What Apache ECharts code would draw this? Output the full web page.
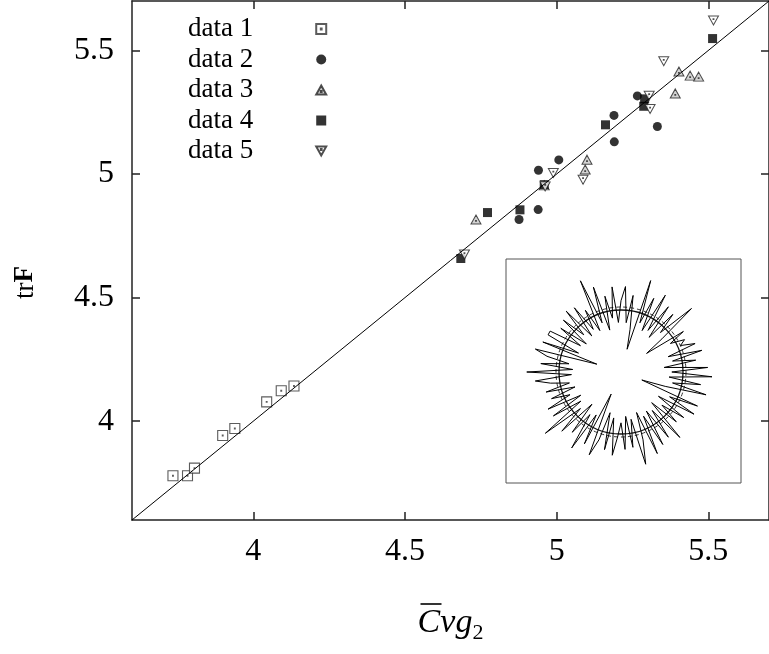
<!DOCTYPE html>
<html>
<head>
<meta charset="utf-8">
<script src="https://cdn.jsdelivr.net/npm/echarts@6/dist/echarts.min.js"></script>
<style>
  html, body { margin: 0; padding: 0; background: #fff; }
  #chart { width: 769px; height: 654px; }
</style>
</head>
<body>
<div id="chart"></div>
<script>
// Axis ranges and tick positions
const axisMin = 3.6;
const axisMax = 5.7;
const tickValues = [4, 4.5, 5, 5.5];

// Measured points, [C̄νg₂, trF]
const data1 = [[3.735, 3.779], [3.783, 3.779], [3.806, 3.810], [3.899, 3.942], [3.939, 3.970], [4.044, 4.078], [4.092, 4.123], [4.134, 4.142]];
const data2 = [[5.266, 5.316], [5.189, 5.237], [5.332, 5.192], [5.190, 5.130], [5.007, 5.057], [4.940, 5.015], [4.939, 4.856], [4.876, 4.816]];
const data3 = [[5.100, 5.058], [5.094, 5.018], [4.734, 4.816], [4.959, 4.954], [5.403, 5.415], [5.440, 5.398], [5.468, 5.394], [5.391, 5.326]];
const data4 = [[5.514, 5.548], [5.290, 5.304], [5.287, 5.274], [5.161, 5.199], [4.959, 4.957], [4.879, 4.855], [4.772, 4.844], [4.684, 4.658]];
const data5 = [[5.517, 5.621], [5.353, 5.456], [5.305, 5.317], [5.308, 5.263], [4.989, 5.004], [5.087, 4.977], [4.696, 4.674], [4.962, 4.950]];

// Reference line trF = C̄νg₂
const identityLine = [[3.6, 3.6], [5.7, 5.7]];

// Inset: radial profile, relative to the mean radius, sampled every 3° clockwise from the top
const insetRadii = [
  1.15, 1.38, 0.80, 1.25, 0.70, 0.38, 1.55, 0.85, 1.30, 0.75,
  1.43, 0.80, 1.30, 0.72, 1.25, 0.90, 1.53, 0.85, 0.51, 1.20,
  0.92, 1.15, 1.05, 1.28, 0.80, 1.35, 0.85, 1.22, 0.70, 1.40,
  0.82, 1.47, 0.78, 1.30, 0.85, 1.42, 0.75, 0.36, 1.35, 0.88,
  1.36, 0.72, 1.25, 0.85, 1.20, 0.70, 1.42, 0.80, 1.30, 0.75,
  1.35, 0.80, 1.44, 0.70, 1.15, 1.54, 0.78, 1.23, 0.72, 1.25,
  0.82, 1.05, 1.35, 0.75, 1.28, 0.68, 1.15, 1.43, 0.39, 1.30,
  0.80, 1.46, 0.85, 1.25, 0.70, 1.35, 0.88, 1.57, 0.80, 1.30,
  0.75, 1.32, 0.90, 1.20, 0.78, 1.25, 0.85, 1.15, 1.39, 0.80,
  1.52, 0.78, 1.30, 0.85, 1.22, 1.43, 0.41, 1.35, 0.75, 1.32,
  1.32, 0.78, 1.20, 0.72, 1.25, 0.85, 1.32, 0.75, 1.28, 0.82,
  1.15, 0.75, 1.61, 0.85, 1.44, 0.70, 1.25, 0.88, 1.38, 0.80
];
const insetStep = 360 / insetRadii.length;
const insetProfile = insetRadii.map((r, i) => [r, i * insetStep]);
insetProfile.push([insetRadii[0], 360]);

// Inset geometry: mean circle radius (px) and the radial extent the profile axis covers
const insetCenter = [621, 372];
const meanRadiusPx = 62;
const profileAxisMax = 1.7;

const serif = 'Liberation Serif';
const frame = { color: '#222', width: 1.5 };

// Marker shapes: open square / triangles with a centre dot
const squareDot = 'path://M0,0H10V10H0Z M4.6,4.6H5.4V5.4H4.6Z';
const triUpDot = 'path://M5,0L10,9H0Z M4.6,5.6H5.4V6.4H4.6Z';
const triDownDot = 'path://M0,0H10L5,9Z M4.6,2.6H5.4V3.4H4.6Z';

function mainX(extra) {
  return Object.assign({
    type: 'value', gridIndex: 0, min: axisMin, max: axisMax,
    axisLine: { show: true, onZero: false, lineStyle: frame },
    axisTick: { show: true, inside: true, length: 8, customValues: tickValues, lineStyle: frame },
    axisLabel: { show: true, customValues: tickValues, color: '#000', fontFamily: serif, fontSize: 32, margin: 16 },
    splitLine: { show: false }
  }, extra);
}
function mainY(extra) {
  return Object.assign({
    type: 'value', gridIndex: 0, min: axisMin, max: axisMax,
    axisLine: { show: true, onZero: false, lineStyle: frame },
    axisTick: { show: true, inside: true, length: 8, customValues: tickValues, lineStyle: frame },
    axisLabel: { show: true, customValues: tickValues, color: '#000', fontFamily: serif, fontSize: 32, margin: 18 },
    splitLine: { show: false }
  }, extra);
}
function ringAxis(polarIndex, lineStyle) {
  return {
    polarIndex: polarIndex, type: 'value', min: 0, max: 360, startAngle: 90, clockwise: true,
    axisLine: { show: !!lineStyle, lineStyle: lineStyle || {} },
    axisTick: { show: false }, axisLabel: { show: false }, splitLine: { show: false }
  };
}

const chart = echarts.init(document.getElementById('chart'), null, { renderer: 'canvas' });

chart.setOption({
  animation: false,
  backgroundColor: '#fff',
  grid: [
    { left: 132, top: 1, width: 647, height: 519, show: false },
    { left: 506, top: 259, width: 235, height: 224, show: true, borderColor: '#555', borderWidth: 1, backgroundColor: '#fff' }
  ],
  xAxis: [
    mainX({
      position: 'bottom',
      name: '{sp0|}{ob|}{sp|}\n{c|C}{n|νg}{s|2}',
      nameLocation: 'middle',
      nameGap: 82,
      nameTextStyle: {
        rich: {
          sp0: { width: 6, height: 2, lineHeight: 4 },
          ob: { width: 21, height: 1.6, lineHeight: 4, backgroundColor: '#000' },
          sp: { width: 45, height: 2, lineHeight: 4 },
          c: { fontFamily: serif, fontStyle: 'italic', fontSize: 34, lineHeight: 34, color: '#000' },
          n: { fontFamily: serif, fontStyle: 'italic', fontSize: 34, lineHeight: 34, color: '#000' },
          s: { fontFamily: serif, fontSize: 22, lineHeight: 22, color: '#000', padding: [20, 0, 0, 0] }
        }
      }
    }),
    mainX({ position: 'top', axisLabel: { show: false } }),
    { type: 'value', gridIndex: 1, show: false, min: 0, max: 1 }
  ],
  yAxis: [
    mainY({
      position: 'left',
      name: '{a|tr}{b|F}',
      nameLocation: 'middle',
      nameGap: 93,
      nameRotate: 90,
      nameTextStyle: {
        padding: [0, 44, 0, 0],
        rich: {
          a: { fontFamily: serif, fontSize: 27, color: '#000' },
          b: { fontFamily: serif, fontWeight: 'bold', fontSize: 27, color: '#000' }
        }
      }
    }),
    mainY({ position: 'right', axisLabel: { show: false } }),
    { type: 'value', gridIndex: 1, show: false, min: 0, max: 1 }
  ],
  polar: [
    { center: insetCenter, radius: meanRadiusPx * profileAxisMax },
    { center: insetCenter, radius: meanRadiusPx },
    { center: insetCenter, radius: meanRadiusPx + 3 }
  ],
  angleAxis: [
    ringAxis(0, null),
    ringAxis(1, { color: '#111', width: 1.3 }),
    ringAxis(2, { color: '#333', width: 1, type: [4, 3] })
  ],
  radiusAxis: [
    { polarIndex: 0, type: 'value', min: 0, max: profileAxisMax, show: false },
    { polarIndex: 1, type: 'value', min: 0, max: 1, show: false },
    { polarIndex: 2, type: 'value', min: 0, max: 1, show: false }
  ],
  legend: {
    left: 188,
    top: 14,
    orient: 'vertical',
    align: 'right',
    padding: 0,
    itemGap: 0.5,
    itemWidth: 10,
    itemHeight: 10,
    textStyle: { fontFamily: serif, fontSize: 27, color: '#000', lineHeight: 30, padding: [0, 58, 0, 0] },
    data: ['data 1', 'data 2', 'data 3', 'data 4', 'data 5']
  },
  series: [
    {
      name: 'data 1', type: 'scatter', xAxisIndex: 0, yAxisIndex: 0,
      symbol: squareDot, symbolSize: 10,
      itemStyle: { color: '#fff', borderColor: '#333', borderWidth: 1.1 },
      data: data1, z: 3
    },
    {
      name: 'data 2', type: 'scatter', xAxisIndex: 0, yAxisIndex: 0,
      symbol: 'circle', symbolSize: 9,
      itemStyle: { color: '#000' },
      data: data2, z: 3
    },
    {
      name: 'data 3', type: 'scatter', xAxisIndex: 0, yAxisIndex: 0,
      symbol: triUpDot, symbolSize: [10, 9],
      itemStyle: { color: '#c8c8c8', borderColor: '#222', borderWidth: 1 },
      data: data3, z: 3
    },
    {
      name: 'data 4', type: 'scatter', xAxisIndex: 0, yAxisIndex: 0,
      symbol: 'rect', symbolSize: 9,
      itemStyle: { color: '#000' },
      data: data4, z: 3
    },
    {
      name: 'data 5', type: 'scatter', xAxisIndex: 0, yAxisIndex: 0,
      symbol: triDownDot, symbolSize: [10, 9],
      itemStyle: { color: '#fff', borderColor: '#222', borderWidth: 1 },
      data: data5, z: 3
    },
    {
      name: 'identity', type: 'line', xAxisIndex: 0, yAxisIndex: 0,
      data: identityLine, symbol: 'none', silent: true,
      lineStyle: { color: '#000', width: 1 }, z: 4
    },
    {
      name: 'profile', type: 'line', coordinateSystem: 'polar', polarIndex: 0,
      data: insetProfile, symbol: 'none', smooth: false,
      lineStyle: { color: '#000', width: 1 }, z: 5
    }
  ]
});
</script>
</body>
</html>
